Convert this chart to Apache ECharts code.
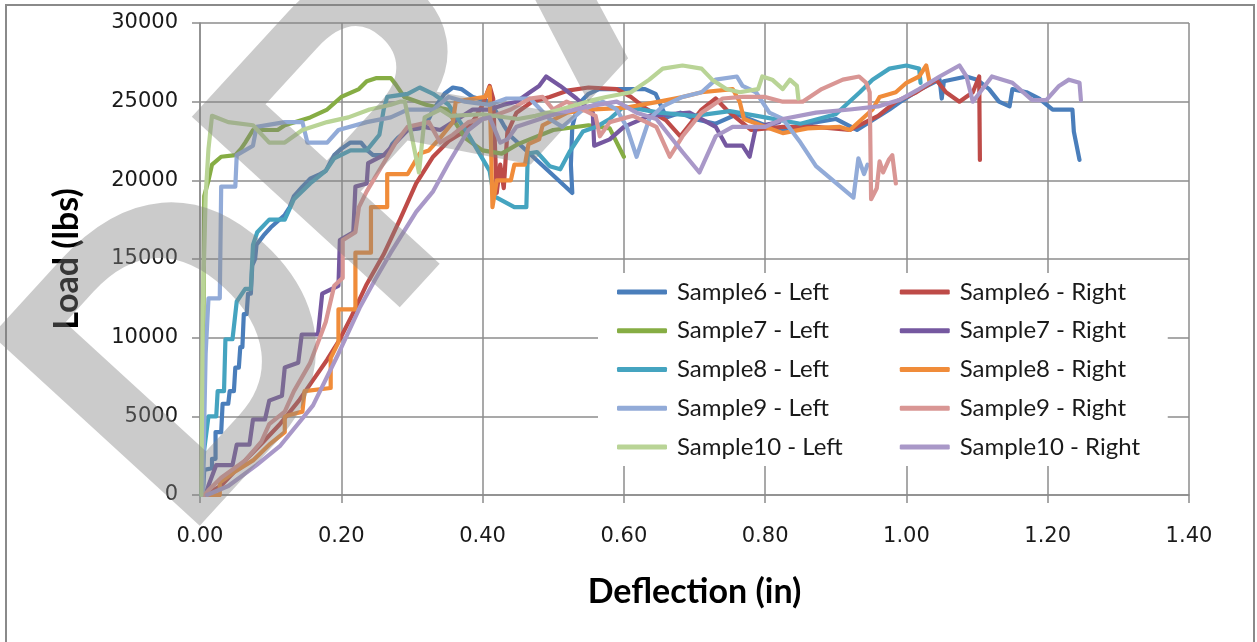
<!DOCTYPE html>
<html>
<head>
<meta charset="utf-8">
<title>Load vs Deflection</title>
<script src="https://cdn.jsdelivr.net/npm/echarts@6/dist/echarts.min.js"></script>
<style>
  html, body { margin: 0; padding: 0; background: #fff; }
  #chart { width: 1257px; height: 642px; }
</style>
</head>
<body>
<div id="chart"></div>
<script>
// Load (lbs) against deflection (in) for each sample, left and right side.
const seriesNames = [
  'Sample6 - Left', 'Sample6 - Right',
  'Sample7 - Left', 'Sample7 - Right',
  'Sample8 - Left', 'Sample8 - Right',
  'Sample9 - Left', 'Sample9 - Right',
  'Sample10 - Left', 'Sample10 - Right'
];
const seriesColors = [
  '#4A7EBB', '#BE4B48', '#86AD44', '#7558A0', '#45A4C0',
  '#F08C3A', '#92ABD8', '#D99694', '#B9D496', '#A998C8'
];
const xTicks = { min: 0, max: 1.4, step: 0.2 };
const yTicks = { min: 0, max: 30000, step: 5000 };

// [deflection, load]
const sample6Left = [
  [0.004,0],[0.006,1600],[0.017,1700],[0.017,2300],[0.022,2300],[0.022,4000],[0.03,4000],
  [0.032,5800],[0.04,5800],[0.042,6600],[0.048,6600],[0.05,8100],[0.055,8100],[0.057,9400],
  [0.06,9400],[0.062,11500],[0.066,11500],[0.068,12800],[0.072,12800],[0.074,14600],[0.078,15000],
  [0.08,15900],[0.09,16500],[0.1,17000],[0.11,17400],[0.12,17800],[0.127,18300],[0.133,19000],
  [0.145,19600],[0.156,20100],[0.17,20400],[0.178,20600],[0.185,21200],[0.19,21600],[0.2,22000],
  [0.213,22400],[0.228,22400],[0.237,21900],[0.245,21600],[0.265,21600],[0.272,22300],[0.28,22700],
  [0.294,23200],[0.31,23300],[0.317,23400],[0.325,24000],[0.33,24500],[0.34,25100],[0.346,25500],
  [0.358,25900],[0.37,25800],[0.386,25300],[0.41,25000],[0.42,24300],[0.43,23500],[0.44,22800],
  [0.527,19200],[0.525,21000],[0.527,23400],[0.535,24800],[0.55,25500],[0.565,25800],[0.63,25800],
  [0.645,25500],[0.66,24000],[0.68,24300],[0.7,23900],[0.73,23600],[0.76,24200],[0.8,23500],
  [0.83,23200],[0.86,23600],[0.9,23900],[0.93,23200],[0.976,24500],[0.995,25100],[1.02,25800],
  [1.047,26400],[1.05,25200],[1.053,26300],[1.085,26600],[1.1,26400],[1.117,25800],[1.131,25000],
  [1.146,24700],[1.15,25800],[1.17,25600],[1.188,25200],[1.207,24500],[1.235,24500],[1.237,23100],
  [1.245,21300]
];
const sample6Right = [
  [0.008,0],[0.03,600],[0.064,2200],[0.09,3400],[0.113,4500],[0.14,6000],[0.16,7300],[0.18,8600],
  [0.198,9900],[0.215,11400],[0.236,13400],[0.26,15300],[0.283,17500],[0.306,19800],[0.33,21500],
  [0.352,22500],[0.37,23000],[0.38,23400],[0.39,24000],[0.4,24800],[0.41,26000],[0.415,25200],
  [0.42,19200],[0.425,21000],[0.43,19500],[0.435,23000],[0.448,24300],[0.47,25000],[0.495,25300],
  [0.52,25700],[0.55,25900],[0.59,25800],[0.61,25300],[0.63,24600],[0.66,23800],[0.68,22800],
  [0.71,24500],[0.73,25200],[0.745,24500],[0.78,23200],[0.825,23400],[0.872,23400],[0.92,23200],
  [0.96,24100],[0.985,25000],[1.014,25600],[1.042,26400],[1.056,25600],[1.075,25000],[1.094,25600],
  [1.103,26600],[1.104,21300]
];
const sample7Left = [
  [0.003,0],[0.005,12000],[0.006,19000],[0.012,20000],[0.017,21000],[0.03,21500],[0.05,21600],
  [0.058,22000],[0.064,22400],[0.075,23200],[0.11,23200],[0.12,23500],[0.156,24000],[0.18,24500],
  [0.2,25300],[0.225,25800],[0.236,26300],[0.25,26500],[0.27,26500],[0.277,26100],[0.289,25300],
  [0.32,24800],[0.35,24500],[0.375,22700],[0.4,21900],[0.427,21700],[0.45,22300],[0.5,23200],
  [0.55,23500],[0.58,23300],[0.6,21500]
];
const sample7Right = [
  [0.008,0],[0.012,600],[0.023,1900],[0.046,1900],[0.052,3200],[0.07,3200],[0.075,4800],[0.092,4800],
  [0.098,6000],[0.116,6300],[0.12,8100],[0.139,8400],[0.144,10200],[0.167,10200],[0.173,12800],
  [0.196,13300],[0.198,16200],[0.217,16700],[0.22,19600],[0.236,19800],[0.238,21100],[0.26,21600],
  [0.277,22400],[0.294,23200],[0.317,23400],[0.34,23200],[0.358,23700],[0.386,24500],[0.41,24500],
  [0.43,24800],[0.448,25000],[0.467,25600],[0.48,26000],[0.49,26600],[0.51,26000],[0.533,25200],
  [0.556,24300],[0.558,22200],[0.58,22600],[0.6,23400],[0.636,24100],[0.693,24300],[0.73,23400],
  [0.745,22200],[0.768,22200],[0.778,21500],[0.787,23400],[0.82,23700]
];
const sample8Left = [
  [0.002,0],[0.006,2900],[0.012,5000],[0.023,5000],[0.025,6600],[0.034,6600],[0.036,9900],
  [0.046,9900],[0.052,12300],[0.064,13100],[0.072,13100],[0.075,15900],[0.081,16700],[0.098,17500],
  [0.12,17500],[0.133,18800],[0.156,19800],[0.178,20600],[0.19,21400],[0.213,21900],[0.236,21900],
  [0.254,22900],[0.26,24500],[0.265,25300],[0.294,25500],[0.311,25900],[0.33,25500],[0.352,24800],
  [0.38,22900],[0.41,20600],[0.416,19000],[0.445,18300],[0.462,18300],[0.464,21700],[0.477,21800],
  [0.495,20900],[0.51,20700],[0.523,21800],[0.542,23100],[0.561,23400],[0.58,23900],[0.6,24700],
  [0.65,24300],[0.7,24100],[0.75,24400],[0.8,24000],[0.85,23600],[0.9,24200],[0.934,25600],
  [0.952,26400],[0.976,27100],[1.0,27300],[1.018,27100],[1.02,26200]
];
const sample8Right = [
  [0.005,0],[0.028,0],[0.028,800],[0.05,1500],[0.075,2200],[0.098,3200],[0.12,4000],[0.12,5000],
  [0.145,5300],[0.148,6600],[0.185,6800],[0.185,8700],[0.196,9700],[0.196,11800],[0.22,11800],
  [0.22,15400],[0.242,15400],[0.242,18300],[0.265,18300],[0.265,20400],[0.294,20400],[0.311,21700],
  [0.324,21900],[0.34,22700],[0.358,23700],[0.362,25000],[0.404,25300],[0.41,25900],[0.414,18300],
  [0.42,20000],[0.44,20000],[0.445,21000],[0.46,21000],[0.465,22300],[0.48,22600],[0.485,23500],
  [0.52,24300],[0.55,24500],[0.6,24600],[0.65,25000],[0.683,25300],[0.71,25600],[0.754,25800],
  [0.764,25000],[0.77,23900],[0.8,23400],[0.825,23000],[0.86,23300],[0.905,23400],[0.92,23200],
  [0.952,24500],[0.962,25300],[0.985,25600],[1.0,26200],[1.018,26600],[1.028,27300],[1.033,26200]
];
const sample9Left = [
  [0.004,0],[0.008,9000],[0.012,12500],[0.028,12500],[0.03,19600],[0.05,19600],[0.052,21600],
  [0.075,22200],[0.08,23400],[0.12,23700],[0.145,23700],[0.152,22400],[0.18,22400],[0.196,23200],
  [0.236,23700],[0.27,24000],[0.294,24500],[0.33,24500],[0.352,25300],[0.375,25000],[0.41,24800],
  [0.434,25200],[0.467,25200],[0.495,23900],[0.513,23400],[0.542,24500],[0.57,25000],[0.59,24500],
  [0.604,23400],[0.618,21500],[0.636,23900],[0.655,24700],[0.683,25300],[0.71,25600],[0.73,26400],
  [0.76,26600],[0.768,26000],[0.787,25600],[0.806,24300],[0.825,23900],[0.85,22400],[0.872,20900],
  [0.925,18900],[0.932,21400],[0.94,20400],[0.945,21000]
];
const sample9Right = [
  [0.006,0],[0.012,300],[0.03,1100],[0.064,2200],[0.087,3400],[0.098,4500],[0.12,5300],[0.133,6600],
  [0.156,8400],[0.167,9700],[0.178,11000],[0.19,13300],[0.202,13800],[0.202,16200],[0.22,16700],
  [0.225,18300],[0.236,19300],[0.26,21100],[0.277,22400],[0.294,23400],[0.324,23700],[0.34,22400],
  [0.358,22900],[0.38,23700],[0.41,24000],[0.44,24500],[0.467,25200],[0.485,25300],[0.5,24500],
  [0.519,25000],[0.56,24100],[0.566,22800],[0.58,23700],[0.613,24100],[0.646,23400],[0.665,21500],
  [0.683,22800],[0.71,24300],[0.74,25200],[0.768,25300],[0.8,25300],[0.825,25000],[0.853,25000],
  [0.88,25800],[0.91,26400],[0.933,26600],[0.943,26200],[0.948,25600],[0.95,18800],[0.958,19500],
  [0.962,21200],[0.967,20500],[0.975,21300],[0.98,21600],[0.985,19800]
];
const sample10Left = [
  [0.002,0],[0.004,12000],[0.008,19000],[0.012,22000],[0.017,24100],[0.04,23700],[0.075,23500],
  [0.098,22400],[0.12,22400],[0.145,23200],[0.18,23700],[0.21,24000],[0.24,24500],[0.27,24800],
  [0.283,25000],[0.29,25000],[0.31,20500],[0.318,24000],[0.34,24500],[0.354,24100],[0.4,24200],
  [0.45,23900],[0.475,24100],[0.51,24500],[0.556,25100],[0.575,25300],[0.61,25600],[0.636,26400],
  [0.655,27100],[0.683,27300],[0.71,27100],[0.725,26400],[0.745,25800],[0.764,25600],[0.79,25800],
  [0.796,26600],[0.81,26400],[0.825,25800],[0.835,26400],[0.845,26000],[0.847,25200]
];
const sample10Right = [
  [0.01,0],[0.04,570],[0.08,1900],[0.113,3100],[0.16,5700],[0.194,8800],[0.226,11900],[0.248,13700],
  [0.27,15400],[0.306,18000],[0.33,19300],[0.352,21100],[0.38,23200],[0.4,23900],[0.41,24000],
  [0.425,22400],[0.435,22600],[0.448,23400],[0.495,24100],[0.55,24700],[0.59,25000],[0.618,24300],
  [0.646,23900],[0.683,21800],[0.707,20500],[0.73,22800],[0.754,23400],[0.8,23400],[0.825,23900],
  [0.872,24300],[0.92,24500],[0.96,24700],[0.99,25100],[1.018,25800],[1.047,26600],[1.075,27300],
  [1.085,26600],[1.094,25000],[1.121,26600],[1.15,26200],[1.178,25100],[1.198,25100],[1.216,26000],
  [1.23,26400],[1.245,26200],[1.247,25100]
];

const seriesData = [
  sample6Left, sample6Right, sample7Left, sample7Right, sample8Left,
  sample8Right, sample9Left, sample9Right, sample10Left, sample10Right
];

const axisGray = '#8C8C8C';
const tickFont = { fontFamily: '"DejaVu Sans", Verdana, sans-serif', fontSize: 21, color: '#1a1a1a' };
const titleFont = { fontFamily: 'Lato, "Liberation Sans", sans-serif', fontWeight: 'bold', fontSize: 34, color: '#000' };

const chart = echarts.init(document.getElementById('chart'), null, { renderer: 'canvas' });

// Watermark: text rotated about its bottom-left anchor
const markAngle = 47.5 * Math.PI / 180;

chart.setOption({
  animation: false,
  backgroundColor: '#fff',
  grid: { left: 200, right: 68, top: 23, bottom: 147, containLabel: false, outerBoundsMode: 'none' },
  xAxis: {
    type: 'value',
    min: xTicks.min, max: xTicks.max, interval: xTicks.step,
    name: 'Deflection (in)',
    nameLocation: 'middle',
    nameGap: 80,
    nameTextStyle: titleFont,
    axisLine: { show: true, lineStyle: { color: axisGray, width: 1.5 } },
    axisTick: { show: true, inside: false, length: 8, lineStyle: { color: axisGray, width: 1.5 } },
    axisLabel: Object.assign({ margin: 31, formatter: v => v.toFixed(2) }, tickFont),
    splitLine: { show: true, lineStyle: { color: axisGray, width: 1.5 } }
  },
  yAxis: {
    type: 'value',
    min: yTicks.min, max: yTicks.max, interval: yTicks.step,
    name: 'Load (lbs)',
    nameLocation: 'middle',
    nameGap: 116,
    nameRotate: 90,
    nameTextStyle: titleFont,
    axisLine: { show: true, lineStyle: { color: axisGray, width: 1.5 } },
    axisTick: { show: true, inside: false, length: 8, lineStyle: { color: axisGray, width: 1.5 } },
    axisLabel: Object.assign({ margin: 22, formatter: v => String(v) }, tickFont),
    splitLine: { show: true, lineStyle: { color: axisGray, width: 1.5 } }
  },
  legend: {
    data: seriesNames,
    selectedMode: false,
    orient: 'horizontal',
    left: 598, top: 273,
    width: 560,
    itemGap: 14.75,
    itemWidth: 50,
    itemHeight: 5,
    icon: 'roundRect',
    padding: [7, 0, 7, 19],
    backgroundColor: '#fff',
    textStyle: {
      fontFamily: 'Lato, "Liberation Sans", sans-serif',
      fontSize: 24, color: '#1a1a1a',
      width: 208, lineHeight: 23, padding: [0, 0, 0, 5]
    }
  },
  series: seriesNames.map((name, i) => ({
    name,
    type: 'line',
    data: seriesData[i],
    showSymbol: false,
    symbol: 'none',
    color: seriesColors[i],
    lineStyle: { width: 4.2, color: seriesColors[i], cap: 'round', join: 'round' },
    z: 2 + i * 0.01
  })),
  graphic: [
    {
      type: 'rect', silent: true, z: -10,
      shape: { x: 6, y: 5, width: 1248, height: 700 },
      style: { fill: 'none', stroke: '#8A8A8A', lineWidth: 2 }
    },
    {
      type: 'text', silent: true, z: 100,
      x: 249, y: 608,
      rotation: markAngle,
      style: {
        text: 'DRAFT',
        fontFamily: '"Liberation Sans", Arial, sans-serif',
        fontWeight: 'bold',
        fontSize: 410,
        fill: 'rgba(130,130,130,0.42)',
        align: 'left',
        verticalAlign: 'bottom'
      }
    }
  ]
});
</script>
</body>
</html>
